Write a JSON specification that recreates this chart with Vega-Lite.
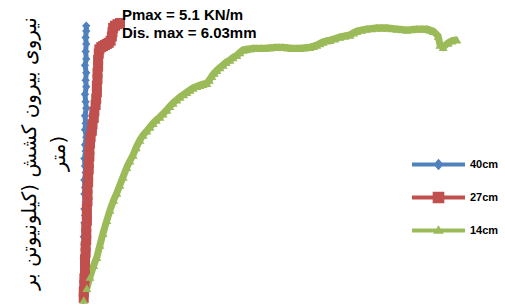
{
  "$schema": "https://vega.github.io/schema/vega-lite/v6.json",
  "width": 400,
  "height": 300,
  "autosize": {"type": "none"},
  "padding": {"left": 80, "top": 0, "right": 25, "bottom": 7},
  "background": "white",
  "config": {"view": {"stroke": null}},
  "data": {"values": [
    {"series": "40cm", "x": 0.05, "y": 0.00},
    {"series": "40cm", "x": 0.06, "y": 0.12},
    {"series": "40cm", "x": 0.05, "y": 0.25},
    {"series": "40cm", "x": 0.07, "y": 0.38},
    {"series": "40cm", "x": 0.06, "y": 0.50},
    {"series": "40cm", "x": 0.07, "y": 0.64},
    {"series": "40cm", "x": 0.06, "y": 0.78},
    {"series": "40cm", "x": 0.08, "y": 0.90},
    {"series": "40cm", "x": 0.07, "y": 1.04},
    {"series": "40cm", "x": 0.06, "y": 1.18},
    {"series": "40cm", "x": 0.08, "y": 1.30},
    {"series": "40cm", "x": 0.07, "y": 1.44},
    {"series": "40cm", "x": 0.08, "y": 1.58},
    {"series": "40cm", "x": 0.07, "y": 1.70},
    {"series": "40cm", "x": 0.09, "y": 1.84},
    {"series": "40cm", "x": 0.07, "y": 1.98},
    {"series": "40cm", "x": 0.08, "y": 2.10},
    {"series": "40cm", "x": 0.07, "y": 2.24},
    {"series": "40cm", "x": 0.09, "y": 2.38},
    {"series": "40cm", "x": 0.08, "y": 2.50},
    {"series": "40cm", "x": 0.07, "y": 2.64},
    {"series": "40cm", "x": 0.09, "y": 2.78},
    {"series": "40cm", "x": 0.08, "y": 2.90},
    {"series": "40cm", "x": 0.10, "y": 3.04},
    {"series": "40cm", "x": 0.08, "y": 3.18},
    {"series": "40cm", "x": 0.09, "y": 3.30},
    {"series": "40cm", "x": 0.08, "y": 3.44},
    {"series": "40cm", "x": 0.10, "y": 3.58},
    {"series": "40cm", "x": 0.09, "y": 3.70},
    {"series": "40cm", "x": 0.08, "y": 3.84},
    {"series": "40cm", "x": 0.10, "y": 3.98},
    {"series": "40cm", "x": 0.09, "y": 4.10},
    {"series": "40cm", "x": 0.10, "y": 4.24},
    {"series": "40cm", "x": 0.08, "y": 4.38},
    {"series": "40cm", "x": 0.10, "y": 4.50},
    {"series": "40cm", "x": 0.09, "y": 4.64},
    {"series": "40cm", "x": 0.10, "y": 4.78},
    {"series": "40cm", "x": 0.09, "y": 4.90},
    {"series": "40cm", "x": 0.10, "y": 5.02},
    {"series": "40cm", "x": 0.10, "y": 5.12},
    {"series": "27cm", "x": 0.06, "y": 0.04},
    {"series": "27cm", "x": 0.06, "y": 0.15},
    {"series": "27cm", "x": 0.07, "y": 0.28},
    {"series": "27cm", "x": 0.07, "y": 0.40},
    {"series": "27cm", "x": 0.08, "y": 0.52},
    {"series": "27cm", "x": 0.08, "y": 0.64},
    {"series": "27cm", "x": 0.08, "y": 0.76},
    {"series": "27cm", "x": 0.09, "y": 0.88},
    {"series": "27cm", "x": 0.09, "y": 1.00},
    {"series": "27cm", "x": 0.10, "y": 1.12},
    {"series": "27cm", "x": 0.10, "y": 1.24},
    {"series": "27cm", "x": 0.10, "y": 1.36},
    {"series": "27cm", "x": 0.11, "y": 1.48},
    {"series": "27cm", "x": 0.11, "y": 1.60},
    {"series": "27cm", "x": 0.11, "y": 1.72},
    {"series": "27cm", "x": 0.12, "y": 1.84},
    {"series": "27cm", "x": 0.12, "y": 1.96},
    {"series": "27cm", "x": 0.12, "y": 2.08},
    {"series": "27cm", "x": 0.13, "y": 2.20},
    {"series": "27cm", "x": 0.13, "y": 2.32},
    {"series": "27cm", "x": 0.14, "y": 2.44},
    {"series": "27cm", "x": 0.14, "y": 2.56},
    {"series": "27cm", "x": 0.15, "y": 2.68},
    {"series": "27cm", "x": 0.15, "y": 2.80},
    {"series": "27cm", "x": 0.16, "y": 2.92},
    {"series": "27cm", "x": 0.17, "y": 3.04},
    {"series": "27cm", "x": 0.19, "y": 3.16},
    {"series": "27cm", "x": 0.20, "y": 3.28},
    {"series": "27cm", "x": 0.22, "y": 3.40},
    {"series": "27cm", "x": 0.23, "y": 3.52},
    {"series": "27cm", "x": 0.25, "y": 3.64},
    {"series": "27cm", "x": 0.26, "y": 3.76},
    {"series": "27cm", "x": 0.27, "y": 3.88},
    {"series": "27cm", "x": 0.27, "y": 4.00},
    {"series": "27cm", "x": 0.28, "y": 4.12},
    {"series": "27cm", "x": 0.28, "y": 4.24},
    {"series": "27cm", "x": 0.29, "y": 4.36},
    {"series": "27cm", "x": 0.29, "y": 4.48},
    {"series": "27cm", "x": 0.30, "y": 4.60},
    {"series": "27cm", "x": 0.31, "y": 4.68},
    {"series": "27cm", "x": 0.34, "y": 4.72},
    {"series": "27cm", "x": 0.37, "y": 4.74},
    {"series": "27cm", "x": 0.40, "y": 4.76},
    {"series": "27cm", "x": 0.43, "y": 4.78},
    {"series": "27cm", "x": 0.46, "y": 4.80},
    {"series": "27cm", "x": 0.49, "y": 4.84},
    {"series": "27cm", "x": 0.51, "y": 4.92},
    {"series": "27cm", "x": 0.52, "y": 5.00},
    {"series": "27cm", "x": 0.53, "y": 5.08},
    {"series": "27cm", "x": 0.56, "y": 5.12},
    {"series": "27cm", "x": 0.60, "y": 5.15},
    {"series": "27cm", "x": 0.64, "y": 5.17},
    {"series": "14cm", "x": 0.06, "y": 0.00},
    {"series": "14cm", "x": 0.11, "y": 0.22},
    {"series": "14cm", "x": 0.16, "y": 0.43},
    {"series": "14cm", "x": 0.22, "y": 0.65},
    {"series": "14cm", "x": 0.27, "y": 0.80},
    {"series": "14cm", "x": 0.32, "y": 1.03},
    {"series": "14cm", "x": 0.37, "y": 1.25},
    {"series": "14cm", "x": 0.43, "y": 1.49},
    {"series": "14cm", "x": 0.48, "y": 1.68},
    {"series": "14cm", "x": 0.54, "y": 1.87},
    {"series": "14cm", "x": 0.59, "y": 2.00},
    {"series": "14cm", "x": 0.64, "y": 2.15},
    {"series": "14cm", "x": 0.69, "y": 2.30},
    {"series": "14cm", "x": 0.75, "y": 2.48},
    {"series": "14cm", "x": 0.80, "y": 2.60},
    {"series": "14cm", "x": 0.85, "y": 2.71},
    {"series": "14cm", "x": 0.90, "y": 2.85},
    {"series": "14cm", "x": 0.96, "y": 2.99},
    {"series": "14cm", "x": 1.01, "y": 3.08},
    {"series": "14cm", "x": 1.07, "y": 3.16},
    {"series": "14cm", "x": 1.12, "y": 3.23},
    {"series": "14cm", "x": 1.17, "y": 3.30},
    {"series": "14cm", "x": 1.22, "y": 3.36},
    {"series": "14cm", "x": 1.28, "y": 3.42},
    {"series": "14cm", "x": 1.33, "y": 3.48},
    {"series": "14cm", "x": 1.39, "y": 3.55},
    {"series": "14cm", "x": 1.44, "y": 3.62},
    {"series": "14cm", "x": 1.49, "y": 3.68},
    {"series": "14cm", "x": 1.55, "y": 3.74},
    {"series": "14cm", "x": 1.60, "y": 3.79},
    {"series": "14cm", "x": 1.66, "y": 3.84},
    {"series": "14cm", "x": 1.71, "y": 3.88},
    {"series": "14cm", "x": 1.76, "y": 3.92},
    {"series": "14cm", "x": 1.81, "y": 3.96},
    {"series": "14cm", "x": 1.87, "y": 3.99},
    {"series": "14cm", "x": 1.92, "y": 4.01},
    {"series": "14cm", "x": 1.97, "y": 4.03},
    {"series": "14cm", "x": 2.03, "y": 4.05},
    {"series": "14cm", "x": 2.07, "y": 4.11},
    {"series": "14cm", "x": 2.11, "y": 4.18},
    {"series": "14cm", "x": 2.15, "y": 4.24},
    {"series": "14cm", "x": 2.19, "y": 4.29},
    {"series": "14cm", "x": 2.24, "y": 4.34},
    {"series": "14cm", "x": 2.29, "y": 4.39},
    {"series": "14cm", "x": 2.34, "y": 4.44},
    {"series": "14cm", "x": 2.40, "y": 4.48},
    {"series": "14cm", "x": 2.45, "y": 4.53},
    {"series": "14cm", "x": 2.51, "y": 4.57},
    {"series": "14cm", "x": 2.56, "y": 4.62},
    {"series": "14cm", "x": 2.61, "y": 4.67},
    {"series": "14cm", "x": 2.66, "y": 4.68},
    {"series": "14cm", "x": 2.72, "y": 4.69},
    {"series": "14cm", "x": 2.77, "y": 4.70},
    {"series": "14cm", "x": 2.83, "y": 4.70},
    {"series": "14cm", "x": 2.90, "y": 4.70},
    {"series": "14cm", "x": 2.96, "y": 4.70},
    {"series": "14cm", "x": 3.04, "y": 4.71},
    {"series": "14cm", "x": 3.12, "y": 4.72},
    {"series": "14cm", "x": 3.18, "y": 4.72},
    {"series": "14cm", "x": 3.25, "y": 4.72},
    {"series": "14cm", "x": 3.32, "y": 4.71},
    {"series": "14cm", "x": 3.39, "y": 4.70},
    {"series": "14cm", "x": 3.46, "y": 4.70},
    {"series": "14cm", "x": 3.52, "y": 4.70},
    {"series": "14cm", "x": 3.60, "y": 4.71},
    {"series": "14cm", "x": 3.68, "y": 4.72},
    {"series": "14cm", "x": 3.74, "y": 4.74},
    {"series": "14cm", "x": 3.79, "y": 4.76},
    {"series": "14cm", "x": 3.84, "y": 4.79},
    {"series": "14cm", "x": 3.89, "y": 4.82},
    {"series": "14cm", "x": 3.95, "y": 4.84},
    {"series": "14cm", "x": 4.00, "y": 4.85},
    {"series": "14cm", "x": 4.08, "y": 4.88},
    {"series": "14cm", "x": 4.16, "y": 4.91},
    {"series": "14cm", "x": 4.24, "y": 4.93},
    {"series": "14cm", "x": 4.32, "y": 4.95},
    {"series": "14cm", "x": 4.38, "y": 4.99},
    {"series": "14cm", "x": 4.43, "y": 5.02},
    {"series": "14cm", "x": 4.51, "y": 5.04},
    {"series": "14cm", "x": 4.59, "y": 5.06},
    {"series": "14cm", "x": 4.67, "y": 5.07},
    {"series": "14cm", "x": 4.75, "y": 5.08},
    {"series": "14cm", "x": 4.83, "y": 5.08},
    {"series": "14cm", "x": 4.91, "y": 5.08},
    {"series": "14cm", "x": 4.99, "y": 5.07},
    {"series": "14cm", "x": 5.07, "y": 5.06},
    {"series": "14cm", "x": 5.15, "y": 5.05},
    {"series": "14cm", "x": 5.23, "y": 5.04},
    {"series": "14cm", "x": 5.31, "y": 5.05},
    {"series": "14cm", "x": 5.39, "y": 5.06},
    {"series": "14cm", "x": 5.47, "y": 5.06},
    {"series": "14cm", "x": 5.55, "y": 5.06},
    {"series": "14cm", "x": 5.60, "y": 5.04},
    {"series": "14cm", "x": 5.65, "y": 5.02},
    {"series": "14cm", "x": 5.73, "y": 4.93},
    {"series": "14cm", "x": 5.76, "y": 4.76},
    {"series": "14cm", "x": 5.81, "y": 4.72},
    {"series": "14cm", "x": 5.89, "y": 4.80},
    {"series": "14cm", "x": 5.95, "y": 4.84},
    {"series": "14cm", "x": 6.03, "y": 4.86}
  ]},
  "layer": [
    {
      "transform": [{"filter": "datum.series == '40cm'"}],
      "mark": {"type": "line", "clip": false, "stroke": "#4F81BD", "strokeWidth": 5},
      "encoding": {
        "x": {"field": "x", "type": "quantitative", "scale": {"domain": [0, 6.4]}, "axis": null},
        "y": {
          "field": "y", "type": "quantitative", "scale": {"domain": [0, 5.6]},
          "axis": {
            "domain": false, "ticks": false, "labels": false, "grid": false,
            "title": ["نیروی بیرون کشش (کیلونیوتن بر", "متر)"],
            "titleFont": "DejaVu Sans", "titleFontSize": 20, "titleFontWeight": "normal", "titleColor": "black",
            "titleAngle": -90, "titleAlign": "center", "titleBaseline": "top",
            "titleX": -61, "titleY": 153, "titleLineHeight": 29
          }
        },
        "order": {"value": null}
      }
    },
    {
      "transform": [{"filter": "datum.series == '27cm'"}],
      "mark": {"type": "line", "clip": false, "stroke": "#C0504D", "strokeWidth": 9},
      "encoding": {
        "x": {"field": "x", "type": "quantitative", "scale": {"domain": [0, 6.4]}, "axis": null},
        "y": {"field": "y", "type": "quantitative", "scale": {"domain": [0, 5.6]}},
        "order": {"value": null}
      }
    },
    {
      "transform": [{"filter": "datum.series == '14cm'"}],
      "mark": {"type": "line", "clip": false, "stroke": "#9BBB59", "strokeWidth": 7},
      "encoding": {
        "x": {"field": "x", "type": "quantitative", "scale": {"domain": [0, 6.4]}, "axis": null},
        "y": {"field": "y", "type": "quantitative", "scale": {"domain": [0, 5.6]}},
        "order": {"value": null}
      }
    },
    {
      "transform": [{"filter": "datum.series == '40cm'"}],
      "mark": {"type": "point", "shape": "diamond", "filled": true, "size": 70, "opacity": 1, "fill": "#4F81BD", "strokeWidth": 0},
      "encoding": {
        "x": {"field": "x", "type": "quantitative", "scale": {"domain": [0, 6.4]}, "axis": null},
        "y": {"field": "y", "type": "quantitative", "scale": {"domain": [0, 5.6]}}
      }
    },
    {
      "transform": [{"filter": "datum.series == '27cm'"}],
      "mark": {"type": "point", "shape": "square", "filled": true, "size": 100, "opacity": 1, "fill": "#C0504D", "strokeWidth": 0},
      "encoding": {
        "x": {"field": "x", "type": "quantitative", "scale": {"domain": [0, 6.4]}, "axis": null},
        "y": {"field": "y", "type": "quantitative", "scale": {"domain": [0, 5.6]}}
      }
    },
    {
      "transform": [{"filter": "datum.series == '14cm'"}],
      "mark": {"type": "point", "shape": "triangle-up", "filled": true, "size": 80, "opacity": 1, "fill": "#9BBB59", "strokeWidth": 0},
      "encoding": {
        "x": {"field": "x", "type": "quantitative", "scale": {"domain": [0, 6.4]}, "axis": null},
        "y": {"field": "y", "type": "quantitative", "scale": {"domain": [0, 5.6]}}
      }
    },
    {
      "transform": [{"filter": "datum.x > 100"}],
      "mark": {"type": "point", "filled": true, "opacity": 1},
      "encoding": {
        "x": {"field": "x", "type": "quantitative", "scale": {"domain": [0, 6.4]}, "axis": null},
        "y": {"field": "y", "type": "quantitative", "scale": {"domain": [0, 5.6]}},
        "color": {
          "field": "series", "type": "nominal",
          "scale": {"domain": ["40cm", "27cm", "14cm"], "range": ["#4F81BD", "#C0504D", "#9BBB59"]},
          "legend": {"orient": "none", "legendX": 332, "legendY": 138, "title": null, "labelFont": "Liberation Sans", "labelFontSize": 11, "labelFontWeight": "bold", "labelColor": "black", "symbolSize": 2809, "symbolOpacity": 1, "symbolStrokeWidth": 0, "labelOffset": 5, "rowPadding": -1}
        },
        "shape": {
          "field": "series", "type": "nominal",
          "scale": {"domain": ["40cm", "27cm", "14cm"], "range": [
            "M-1,-0.075H1V0.075H-1Z M0,-0.22L0.19,0L0,0.22L-0.19,0Z",
            "M-1,-0.075H1V0.075H-1Z M-0.22,-0.22H0.22V0.22H-0.22Z",
            "M-1,-0.075H1V0.075H-1Z M0,-0.2L0.2,0.12L-0.2,0.12Z"
          ]},
          "legend": {"orient": "none", "legendX": 332, "legendY": 138, "title": null, "labelFont": "Liberation Sans", "labelFontSize": 11, "labelFontWeight": "bold", "labelColor": "black", "symbolSize": 2809, "symbolOpacity": 1, "symbolStrokeWidth": 0, "labelOffset": 5, "rowPadding": -1}
        }
      }
    },
    {
      "data": {"values": [{"note": 1}]},
      "mark": {"type": "text", "text": "Pmax = 5.1 KN/m", "font": "Liberation Sans", "fontSize": 15, "fontWeight": "bold", "fill": "black", "align": "left", "baseline": "alphabetic"},
      "encoding": {
        "x": {"datum": 0.67, "type": "quantitative", "scale": {"domain": [0, 6.4]}},
        "y": {"datum": 5.23, "type": "quantitative", "scale": {"domain": [0, 5.6]}}
      }
    },
    {
      "data": {"values": [{"note": 2}]},
      "mark": {"type": "text", "text": "Dis. max = 6.03mm", "font": "Liberation Sans", "fontSize": 15, "fontWeight": "bold", "fill": "black", "align": "left", "baseline": "alphabetic"},
      "encoding": {
        "x": {"datum": 0.67, "type": "quantitative", "scale": {"domain": [0, 6.4]}},
        "y": {"datum": 4.89, "type": "quantitative", "scale": {"domain": [0, 5.6]}}
      }
    }
  ]
}
